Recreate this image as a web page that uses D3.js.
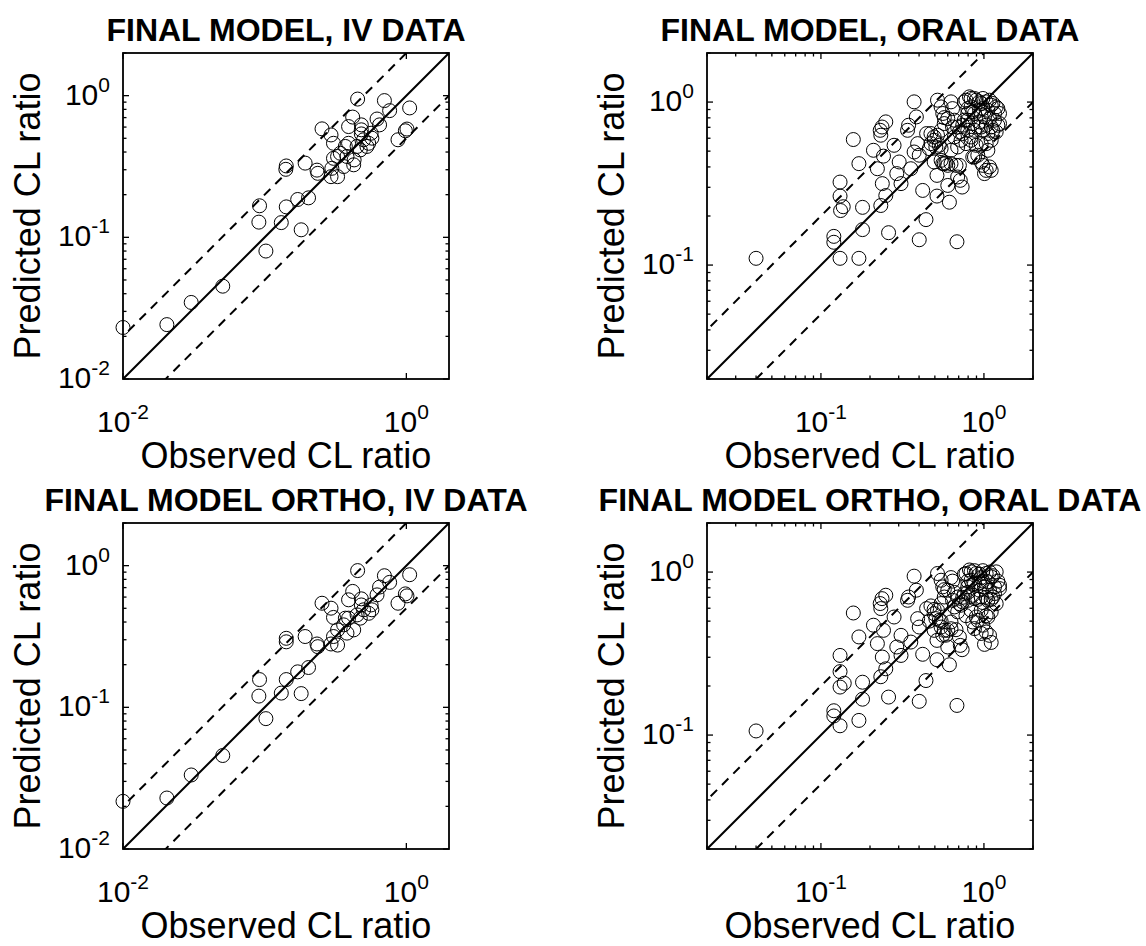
<!DOCTYPE html>
<html>
<head>
<meta charset="utf-8">
<script src="https://cdn.jsdelivr.net/npm/d3@7"></script>
<style>
  body { margin: 0; background: #fff; }
  text { font-family: "Liberation Sans", Arial, Helvetica, sans-serif; fill: #000; }
</style>
</head>
<body>
<svg id="fig" width="1146" height="946"></svg>
<script>
// Titles and axis labels
const titles = [
  "FINAL MODEL, IV DATA",
  "FINAL MODEL, ORAL DATA",
  "FINAL MODEL ORTHO, IV DATA",
  "FINAL MODEL ORTHO, ORAL DATA"
];
const xLabel = "Observed CL ratio";
const yLabel = "Predicted CL ratio";

// Axis limits and labelled ticks
const ivDomain = [0.01, 2];
const oralDomain = [0.02, 2];
const ivXTicks = [0.01, 1];
const ivYTicks = [0.01, 0.1, 1];
const oralXTicks = [0.1, 1];
const oralYTicks = [0.1, 1];

// Final model, IV data
const ivObs = [0.0100, 0.0204, 0.0303, 0.0506, 0.102, 0.091, 0.092, 0.131, 0.142, 0.181,
  0.171, 0.204, 0.142, 0.141, 0.193, 0.234, 0.237, 0.254, 0.294, 0.306,
  0.298, 0.306, 0.327, 0.294, 0.327, 0.342, 0.371, 0.391, 0.425, 0.428,
  0.381, 0.361, 0.453, 0.418, 0.391, 0.481, 0.481, 0.481, 0.499, 0.542,
  0.527, 0.571, 0.564, 0.621, 0.647, 0.700, 0.762, 1.055, 0.873, 0.984,
  1.01, 0.449, 0.473];
const ivPred = [0.0231, 0.0242, 0.0347, 0.0452, 0.080, 0.128, 0.167, 0.127, 0.164, 0.113,
  0.185, 0.190, 0.319, 0.302, 0.334, 0.298, 0.283, 0.583, 0.528, 0.461,
  0.307, 0.361, 0.268, 0.268, 0.372, 0.392, 0.438, 0.461, 0.325, 0.352,
  0.372, 0.316, 0.946, 0.706, 0.605, 0.622, 0.574, 0.537, 0.488, 0.461,
  0.438, 0.501, 0.543, 0.684, 0.622, 0.923, 0.784, 0.819, 0.488, 0.565,
  0.581, 0.438, 0.414];

// Final model, oral data
const oralObs = [0.040, 0.131, 0.171, 0.120, 0.120, 0.180, 0.260, 0.401, 0.683, 0.441,
  0.131, 0.131, 0.132, 0.137, 0.180, 0.233, 0.158, 0.171, 0.210, 0.222,
  0.238, 0.250, 0.231, 0.237, 0.250, 0.233, 0.242, 0.281, 0.292, 0.310,
  0.302, 0.340, 0.345, 0.356, 0.373, 0.385, 0.392, 0.401, 0.421, 0.373,
  0.445, 0.515, 0.515, 0.600, 0.614, 0.716, 0.735, 0.690, 0.519, 0.628,
  0.546, 0.495, 0.519, 0.532, 0.507, 0.473, 0.546, 0.571, 0.600, 0.559,
  0.571, 0.600, 0.628, 0.674, 0.546, 0.495, 0.642, 0.659, 0.690, 0.628,
  0.724, 0.759, 0.796, 0.834, 0.875, 0.939, 0.776, 0.834, 0.896, 0.962,
  1.032, 1.108, 1.189, 1.057, 1.161, 0.796, 0.875, 0.962, 1.057, 1.134,
  1.217, 0.854, 0.917, 0.985, 1.032, 1.082, 0.834, 0.962, 1.057, 1.008,
  1.082, 1.161, 1.246, 0.690, 0.741, 0.834,
  0.473, 0.495, 0.546, 0.462, 0.559, 0.585, 0.707, 0.571, 0.642, 0.759,
  0.815, 0.875, 0.939, 0.985, 1.082, 1.134, 1.217, 1.246, 0.939, 0.854,
  0.796, 0.985, 0.741, 0.796, 0.854, 0.917, 0.985, 1.032, 1.108, 1.189,
  0.896, 0.776, 1.032, 1.108, 0.875, 0.962, 1.108, 1.008, 0.659, 0.707];
const oralPred = [0.110, 0.110, 0.110, 0.150, 0.138, 0.165, 0.158, 0.143, 0.139, 0.190,
  0.323, 0.265, 0.216, 0.228, 0.226, 0.232, 0.589, 0.419, 0.506, 0.390,
  0.316, 0.267, 0.671, 0.703, 0.756, 0.626, 0.466, 0.543, 0.364, 0.316,
  0.429, 0.671, 0.721, 0.390, 1.003, 0.811, 0.556, 0.472, 0.287, 0.494,
  0.641, 0.265, 0.355, 0.308, 0.243, 0.331, 0.301, 0.347, 1.027, 1.003,
  0.934, 0.583, 0.626, 0.543, 0.530, 0.556, 0.671, 0.738, 0.792, 0.851,
  0.419, 0.409, 0.419, 0.409, 0.439, 0.429, 0.703, 0.611, 0.530, 0.506,
  0.583, 0.774, 0.851, 0.934, 0.851, 0.756, 1.027, 1.052, 1.027, 0.980,
  1.003, 0.957, 0.934, 0.891, 0.851, 0.671, 0.671, 0.703, 0.641, 0.671,
  0.721, 0.460, 0.472, 0.409, 0.381, 0.400, 0.583, 0.556, 0.506, 0.811,
  0.792, 0.774, 0.738, 0.703, 0.641, 0.611,
  0.641, 0.611, 0.518, 0.518, 0.419, 0.423, 0.409, 0.803, 0.912, 1.003,
  1.077, 1.052, 1.003, 1.052, 1.027, 0.980, 0.912, 0.851, 0.891, 0.871,
  0.912, 0.912, 0.721, 0.774, 0.738, 0.703, 0.671, 0.721, 0.703, 0.656,
  0.543, 0.556, 0.556, 0.583, 0.460, 0.429, 0.381, 0.364, 0.774, 0.656];

// Final model ortho, IV data
const orthoIvObs = [0.0100, 0.0204, 0.0303, 0.0506, 0.102, 0.091, 0.092, 0.131, 0.142, 0.181,
  0.171, 0.204, 0.142, 0.142, 0.193, 0.234, 0.237, 0.254, 0.294, 0.306,
  0.327, 0.306, 0.327, 0.294, 0.371, 0.391, 0.425, 0.381, 0.361, 0.453,
  0.418, 0.391, 0.481, 0.481, 0.499, 0.542, 0.571, 0.621, 0.647, 0.700,
  0.762, 1.055, 0.873, 0.984, 1.01, 0.449, 0.473, 0.564];
const orthoIvPred = [0.0217, 0.0229, 0.0333, 0.0457, 0.0832, 0.120, 0.157, 0.126, 0.157, 0.125,
  0.178, 0.191, 0.307, 0.290, 0.316, 0.280, 0.268, 0.543, 0.501, 0.431,
  0.352, 0.316, 0.275, 0.280, 0.426, 0.426, 0.352, 0.334, 0.382, 0.923,
  0.658, 0.574, 0.583, 0.528, 0.488, 0.461, 0.488, 0.622, 0.706, 0.849,
  0.762, 0.863, 0.543, 0.632, 0.612, 0.449, 0.426, 0.528];

// Final model ortho, oral data
const orthoOralObs = [0.040, 0.131, 0.171, 0.120, 0.120, 0.180, 0.260, 0.401, 0.683, 0.441,
  0.131, 0.131, 0.139, 0.131, 0.180, 0.233, 0.158, 0.171, 0.210, 0.222,
  0.238, 0.250, 0.231, 0.237, 0.250, 0.233, 0.242, 0.281, 0.292, 0.310,
  0.310, 0.340, 0.345, 0.356, 0.373, 0.385, 0.392, 0.401, 0.421, 0.445,
  0.515, 0.515, 0.600, 0.614, 0.716, 0.735, 0.519, 0.628, 0.546, 0.495,
  0.519, 0.532, 0.507, 0.546, 0.571, 0.600, 0.559, 0.571, 0.600, 0.628,
  0.674, 0.546, 0.495, 0.642, 0.659, 0.690, 0.628, 0.724, 0.759, 0.796,
  0.834, 0.875, 0.939, 0.776, 0.834, 0.896, 0.962, 1.032, 1.108, 1.189,
  1.057, 1.161, 0.796, 0.875, 0.962, 1.057, 1.134, 1.246, 0.854, 0.917,
  0.985, 1.032, 1.082, 0.834, 0.962, 1.057, 1.008, 1.082, 1.161, 0.690,
  0.741,
  0.473, 0.495, 0.546, 0.462, 0.559, 0.585, 0.707, 0.571, 0.642, 0.759,
  0.815, 0.875, 0.939, 0.985, 1.082, 1.134, 1.217, 1.246, 0.939, 0.854,
  0.796, 0.985, 0.741, 0.796, 0.854, 0.917, 0.985, 1.032, 1.108, 1.189,
  0.896, 0.776, 1.032, 1.108, 0.875, 0.962, 1.108, 1.008, 0.659, 0.707];
const orthoOralPred = [0.106, 0.114, 0.123, 0.141, 0.131, 0.166, 0.171, 0.161, 0.152, 0.216,
  0.308, 0.245, 0.208, 0.197, 0.211, 0.228, 0.561, 0.400, 0.472, 0.364,
  0.301, 0.255, 0.641, 0.687, 0.721, 0.597, 0.439, 0.530, 0.347, 0.308,
  0.409, 0.671, 0.703, 0.372, 0.944, 0.774, 0.518, 0.460, 0.313, 0.597,
  0.290, 0.381, 0.347, 0.270, 0.355, 0.334, 0.980, 0.925, 0.891, 0.556,
  0.583, 0.506, 0.518, 0.641, 0.703, 0.774, 0.811, 0.439, 0.439, 0.449,
  0.443, 0.460, 0.439, 0.671, 0.611, 0.570, 0.494, 0.626, 0.738, 0.811,
  0.891, 0.851, 0.774, 0.980, 1.003, 0.980, 0.925, 0.980, 0.934, 1.003,
  0.871, 0.811, 0.671, 0.687, 0.703, 0.671, 0.703, 0.792, 0.494, 0.506,
  0.472, 0.429, 0.409, 0.583, 0.583, 0.530, 0.811, 0.774, 0.738, 0.703,
  0.656,
  0.620, 0.590, 0.500, 0.500, 0.410, 0.410, 0.400, 0.780, 0.880, 0.970,
  1.030, 1.020, 0.970, 1.020, 1.000, 0.950, 0.880, 0.830, 0.860, 0.840,
  0.880, 0.880, 0.700, 0.750, 0.720, 0.680, 0.650, 0.700, 0.680, 0.640,
  0.530, 0.540, 0.540, 0.570, 0.450, 0.420, 0.370, 0.360, 0.750, 0.640];

// figure layout
const boxSize = 326;
const cols = [123, 707];
const rows = [53, 523];

const panels = [
  { title: titles[0], obs: ivObs, pred: ivPred, domain: ivDomain, xTicks: ivXTicks, yTicks: ivYTicks, xMinor: false, left: cols[0], top: rows[0] },
  { title: titles[1], obs: oralObs, pred: oralPred, domain: oralDomain, xTicks: oralXTicks, yTicks: oralYTicks, xMinor: true, left: cols[1], top: rows[0] },
  { title: titles[2], obs: orthoIvObs, pred: orthoIvPred, domain: ivDomain, xTicks: ivXTicks, yTicks: ivYTicks, xMinor: false, left: cols[0], top: rows[1] },
  { title: titles[3], obs: orthoOralObs, pred: orthoOralPred, domain: oralDomain, xTicks: oralXTicks, yTicks: oralYTicks, xMinor: true, left: cols[1], top: rows[1] }
];

const svg = d3.select("#fig");

// write 10^k as "10" plus a raised exponent
function powerLabel(sel, v) {
  const k = Math.round(Math.log10(v));
  sel.append("tspan").text("10");
  sel.append("tspan")
    .attr("dy", -13)
    .attr("font-size", 21)
    .text(k === 0 ? "0" : "-" + Math.abs(k));
}

panels.forEach(function (p, idx) {
  const x = d3.scaleLog().domain(p.domain).range([0, boxSize]);
  const y = d3.scaleLog().domain(p.domain).range([boxSize, 0]);

  const g = svg.append("g")
    .attr("transform", "translate(" + p.left + "," + p.top + ")");

  g.append("clipPath").attr("id", "clip" + idx)
    .append("rect").attr("width", boxSize).attr("height", boxSize);

  // minor + major ticks on all four sides
  const isMajor = function (v) {
    return Math.abs(Math.log10(v) - Math.round(Math.log10(v))) < 1e-6;
  };
  const xTickVals = p.xMinor ? x.ticks() : p.xTicks;
  xTickVals.forEach(function (v) {
    const len = isMajor(v) ? 6 : 3.5;
    const px = x(v);
    g.append("line").attr("x1", px).attr("x2", px).attr("y1", boxSize).attr("y2", boxSize - len)
      .attr("stroke", "#000").attr("stroke-width", 1.3);
    g.append("line").attr("x1", px).attr("x2", px).attr("y1", 0).attr("y2", len)
      .attr("stroke", "#000").attr("stroke-width", 1.3);
  });
  y.ticks().forEach(function (v) {
    const len = isMajor(v) ? 6 : 3.5;
    const py = y(v);
    g.append("line").attr("y1", py).attr("y2", py).attr("x1", 0).attr("x2", len)
      .attr("stroke", "#000").attr("stroke-width", 1.3);
    g.append("line").attr("y1", py).attr("y2", py).attr("x1", boxSize).attr("x2", boxSize - len)
      .attr("stroke", "#000").attr("stroke-width", 1.3);
  });

  // reference lines: identity and two-fold bounds
  const plot = g.append("g").attr("clip-path", "url(#clip" + idx + ")");
  const line = d3.line().x(function (d) { return x(d[0]); }).y(function (d) { return y(d[1]); });
  [[1, null], [2, "9,7"], [0.5, "9,7"]].forEach(function (r) {
    const lo = p.domain[0] / 4, hi = p.domain[1] * 4;
    plot.append("path")
      .datum([[lo, lo * r[0]], [hi, hi * r[0]]])
      .attr("d", line)
      .attr("fill", "none")
      .attr("stroke", "#000")
      .attr("stroke-width", 2)
      .attr("stroke-dasharray", r[1]);
  });

  // observations
  g.append("g").selectAll("circle")
    .data(p.obs.map(function (o, i) { return [o, p.pred[i]]; }))
    .join("circle")
    .attr("cx", function (d) { return x(d[0]); })
    .attr("cy", function (d) { return y(d[1]); })
    .attr("r", 7)
    .attr("fill", "none")
    .attr("stroke", "#000")
    .attr("stroke-width", 1);

  // frame
  g.append("rect").attr("width", boxSize).attr("height", boxSize)
    .attr("fill", "none").attr("stroke", "#000").attr("stroke-width", 1.8);

  // tick labels
  p.xTicks.forEach(function (v) {
    const t = g.append("text")
      .attr("x", x(v)).attr("y", boxSize + 53)
      .attr("text-anchor", "middle")
      .attr("font-size", 30);
    powerLabel(t, v);
  });
  p.yTicks.forEach(function (v) {
    const t = g.append("text")
      .attr("x", -13).attr("y", y(v) + 9)
      .attr("text-anchor", "end")
      .attr("font-size", 30);
    powerLabel(t, v);
  });

  // labels and title
  g.append("text")
    .attr("x", boxSize / 2).attr("y", boxSize + 89)
    .attr("text-anchor", "middle").attr("font-size", 36)
    .text(xLabel);
  g.append("text")
    .attr("transform", "translate(-83," + (boxSize / 2) + ") rotate(-90)")
    .attr("text-anchor", "middle").attr("font-size", 36)
    .text(yLabel);
  g.append("text")
    .attr("x", boxSize / 2).attr("y", -12)
    .attr("text-anchor", "middle").attr("font-size", 32).attr("font-weight", "bold")
    .text(p.title);
});
</script>
</body>
</html>
